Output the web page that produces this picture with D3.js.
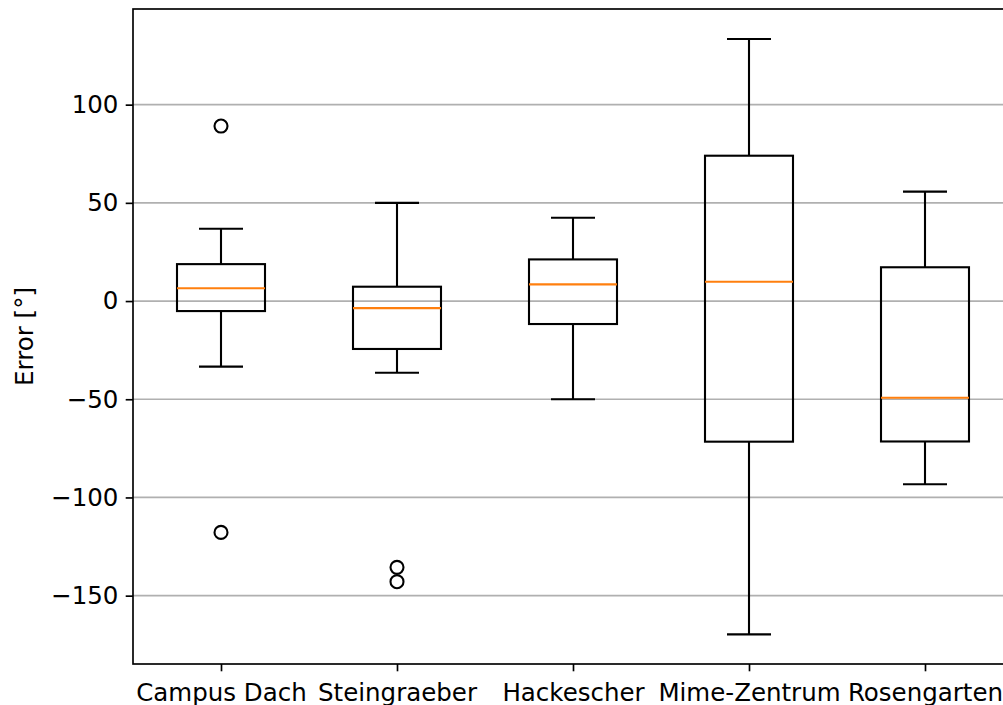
<!DOCTYPE html>
<html>
<head>
<meta charset="utf-8">
<script src="https://cdn.jsdelivr.net/npm/d3@7"></script>
<style>
    html, body { margin: 0; padding: 0; background: #fff; overflow: hidden; }
    text { font-family: "DejaVu Sans", sans-serif; fill: #000; }
</style>
</head>
<body>
<svg id="chart" width="1003" height="705"></svg>
<script>
// box statistics (degrees)
const sites = ["Campus Dach", "Steingraeber", "Hackescher", "Mime-Zentrum", "Rosengarten"];
const whiskerLow = [-33.4, -36.5, -50.0, -169.7, -93.3];
const q1 = [-5.1, -24.4, -11.7, -71.6, -71.5];
const medians = [6.5, -3.6, 8.5, 9.8, -49.2];
const q3 = [18.8, 7.3, 21.2, 74.0, 17.2];
const whiskerHigh = [36.8, 50.0, 42.4, 133.4, 55.7];
const fliers = [[89.1, -117.8], [-135.6, -142.9], [], [], []];
const yTicks = [-150, -100, -50, 0, 50, 100];

const svg = d3.select("#chart");
const plotLeft = 133, plotRight = 1013, plotTop = 9, plotBottom = 664;

const x = d3.scaleLinear().domain([0.5, 5.5]).range([plotLeft, plotRight]);
const y = d3.scaleLinear().domain([-184.8, 148.7]).range([plotBottom, plotTop]);

const boxW = x(1.25) - x(1);   // half box width
const capW = x(1.125) - x(1);  // half cap width

// grid
svg.append("g")
    .selectAll("line")
    .data(yTicks)
    .join("line")
    .attr("x1", plotLeft).attr("x2", plotRight)
    .attr("y1", d => y(d)).attr("y2", d => y(d))
    .attr("stroke", "#b0b0b0")
    .attr("stroke-width", 1.67);

// boxes
const boxes = svg.append("g")
    .selectAll("g")
    .data(sites.map((s, i) => ({ i, pos: i + 1 })))
    .join("g");

boxes.append("line")
    .attr("x1", d => x(d.pos)).attr("x2", d => x(d.pos))
    .attr("y1", d => y(q3[d.i])).attr("y2", d => y(whiskerHigh[d.i]))
    .attr("stroke", "#000").attr("stroke-width", 2.1);
boxes.append("line")
    .attr("x1", d => x(d.pos)).attr("x2", d => x(d.pos))
    .attr("y1", d => y(q1[d.i])).attr("y2", d => y(whiskerLow[d.i]))
    .attr("stroke", "#000").attr("stroke-width", 2.1);
boxes.append("line")
    .attr("x1", d => x(d.pos) - capW).attr("x2", d => x(d.pos) + capW)
    .attr("y1", d => y(whiskerHigh[d.i])).attr("y2", d => y(whiskerHigh[d.i]))
    .attr("stroke", "#000").attr("stroke-width", 2.1);
boxes.append("line")
    .attr("x1", d => x(d.pos) - capW).attr("x2", d => x(d.pos) + capW)
    .attr("y1", d => y(whiskerLow[d.i])).attr("y2", d => y(whiskerLow[d.i]))
    .attr("stroke", "#000").attr("stroke-width", 2.1);
boxes.append("rect")
    .attr("x", d => x(d.pos) - boxW)
    .attr("width", 2 * boxW)
    .attr("y", d => y(q3[d.i]))
    .attr("height", d => y(q1[d.i]) - y(q3[d.i]))
    .attr("fill", "none")
    .attr("stroke", "#000").attr("stroke-width", 2.1);
boxes.append("line")
    .attr("x1", d => x(d.pos) - boxW).attr("x2", d => x(d.pos) + boxW)
    .attr("y1", d => y(medians[d.i])).attr("y2", d => y(medians[d.i]))
    .attr("stroke", "#ff7f0e").attr("stroke-width", 2.1);
boxes.selectAll("circle")
    .data(d => fliers[d.i].map(v => ({ pos: d.pos, v })))
    .join("circle")
    .attr("cx", d => x(d.pos))
    .attr("cy", d => y(d.v))
    .attr("r", 6.5)
    .attr("fill", "none")
    .attr("stroke", "#000").attr("stroke-width", 2.1);

// axes
const yAxis = d3.axisLeft(y)
    .tickValues(yTicks)
    .tickSize(7.3)
    .tickPadding(7.3)
    .tickFormat(d => (d < 0 ? "\u2212" + Math.abs(d) : d));
const gy = svg.append("g")
    .attr("transform", `translate(${plotLeft},0)`)
    .call(yAxis);

const xAxis = d3.axisBottom(x)
    .tickValues(d3.range(1, sites.length + 1))
    .tickSize(7.3)
    .tickPadding(7.3)
    .tickFormat(d => sites[d - 1]);
const gx = svg.append("g")
    .attr("transform", `translate(0,${plotBottom})`)
    .call(xAxis);

[gx, gy].forEach(g => {
    g.select(".domain").remove();
    g.selectAll(".tick line").attr("stroke", "#000").attr("stroke-width", 1.67);
    g.selectAll(".tick text").attr("font-size", 24.5).attr("font-family", "DejaVu Sans");
});
// matplotlib puts the top of the text box (ascent) at the pad
gx.selectAll(".tick text").attr("dy", "0.93em");

// frame
svg.append("rect")
    .attr("x", plotLeft).attr("y", plotTop)
    .attr("width", plotRight - plotLeft).attr("height", plotBottom - plotTop)
    .attr("fill", "none")
    .attr("stroke", "#000").attr("stroke-width", 1.67);

svg.append("text")
    .attr("transform", `translate(33,${(plotTop + plotBottom) / 2}) rotate(-90)`)
    .attr("text-anchor", "middle")
    .attr("font-size", 24.5)
    .text("Error [°]");
</script>
</body>
</html>
